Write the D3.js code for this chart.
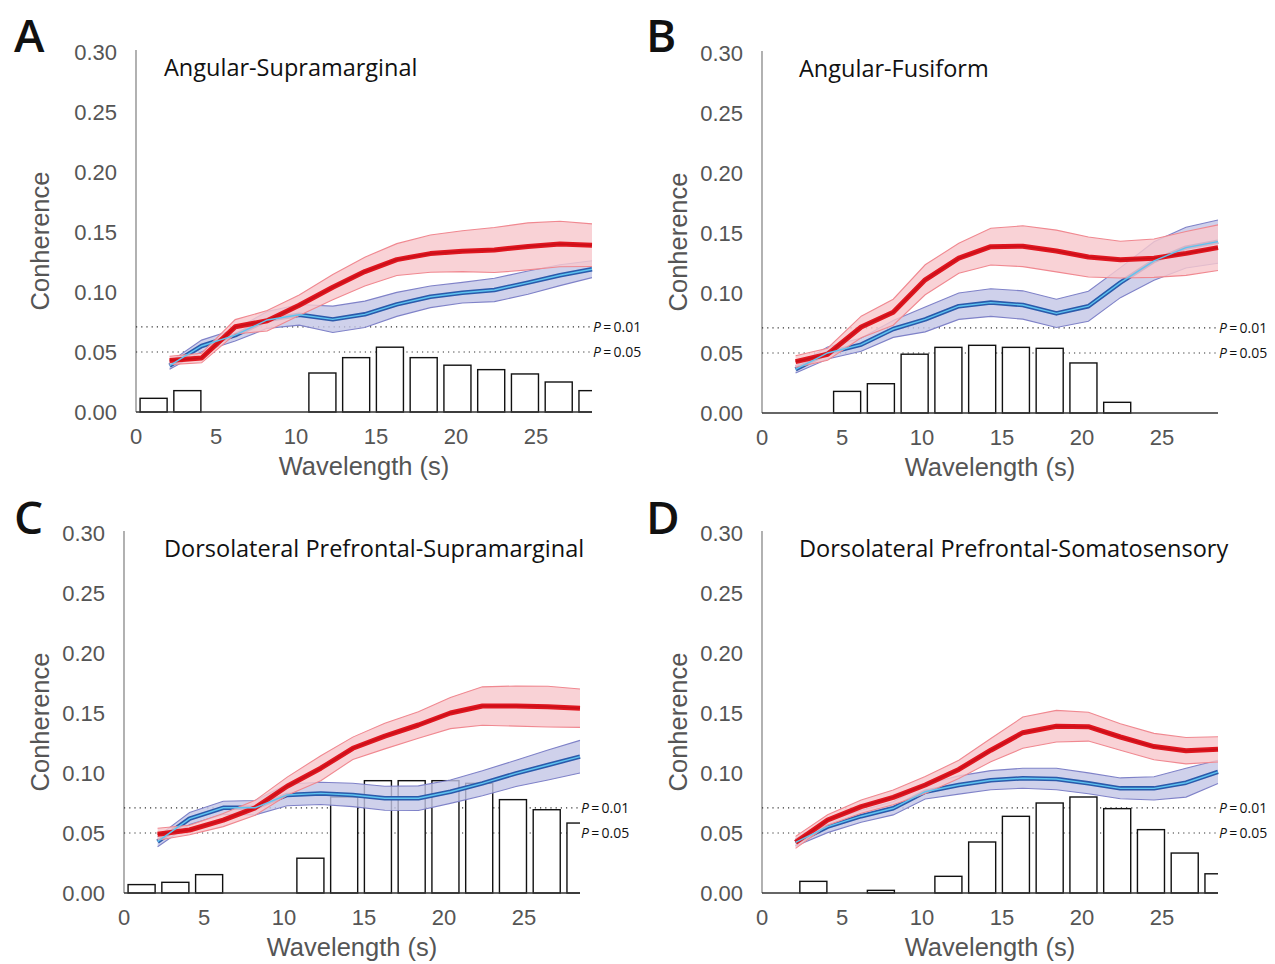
<!DOCTYPE html>
<html>
<head>
<meta charset="utf-8">
<script src="https://cdn.jsdelivr.net/npm/d3@7"></script>
<style>
  body { margin: 0; background: #fff; }
  svg { display: block; }
</style>
</head>
<body>
<svg id="chart" width="1275" height="964"></svg>
<script>
// wavelength grid of the coherence curves and of the histogram bins
const wavelengths = [2.1, 4.1, 6.2, 8.2, 10.2, 12.3, 14.3, 16.3, 18.4, 20.4, 22.4, 24.5, 26.5, 28.5];
const binCenters = [1.1, 3.21, 5.32, 7.43, 9.54, 11.65, 13.76, 15.87, 17.98, 20.09, 22.2, 24.31, 26.42, 28.53];
const xTicks = [0, 5, 10, 15, 20, 25];
const yTicks = [0, 0.05, 0.10, 0.15, 0.20, 0.25, 0.30];
const pLevels = [{p: "0.01", v: 0.071}, {p: "0.05", v: 0.05}];

// A: Angular-Supramarginal
const aRed = [0.043, 0.045, 0.071, 0.076, 0.089, 0.104, 0.117, 0.127, 0.132, 0.134, 0.135, 0.138, 0.140, 0.139];
const aRedErr = [0.0035, 0.004, 0.006, 0.0085, 0.0085, 0.0105, 0.012, 0.0133, 0.0155, 0.017, 0.0188, 0.0196, 0.019, 0.0178];
const aBlue = [0.0386, 0.055, 0.064, 0.0767, 0.081, 0.0772, 0.0814, 0.0897, 0.096, 0.0994, 0.1017, 0.1078, 0.114, 0.119];
const aBlueErr = [0.003, 0.0049, 0.0049, 0.007, 0.0086, 0.011, 0.011, 0.010, 0.009, 0.0086, 0.0097, 0.0097, 0.0087, 0.007];
const aBars = [0.0114, 0.0178, 0, 0, 0, 0.0325, 0.0453, 0.054, 0.0453, 0.039, 0.0353, 0.0317, 0.025, 0.0178];

// B: Angular-Fusiform
const bRed = [0.0428, 0.049, 0.0717, 0.084, 0.111, 0.129, 0.1386, 0.139, 0.135, 0.130, 0.1278, 0.129, 0.133, 0.1378];
const bRedErr = [0.0049, 0.005, 0.009, 0.0108, 0.0125, 0.0125, 0.0153, 0.017, 0.0174, 0.0167, 0.0153, 0.016, 0.0183, 0.019];
const bBlue = [0.0364, 0.05, 0.057, 0.070, 0.078, 0.089, 0.092, 0.090, 0.083, 0.089, 0.1086, 0.1267, 0.1378, 0.1428];
const bBlueErr = [0.003, 0.005, 0.0055, 0.007, 0.0104, 0.011, 0.0115, 0.0118, 0.0118, 0.0125, 0.0125, 0.016, 0.017, 0.018];
const bBars = [0, 0, 0.018, 0.0244, 0.049, 0.0547, 0.0564, 0.0547, 0.0539, 0.0417, 0.0089, 0, 0, 0];

// C: Dorsolateral Prefrontal-Supramarginal
const cRed = [0.049, 0.0525, 0.0608, 0.071, 0.089, 0.104, 0.1206, 0.1308, 0.140, 0.150, 0.1558, 0.1558, 0.1553, 0.154];
const cRedErr = [0.005, 0.004, 0.0055, 0.0062, 0.0076, 0.0104, 0.0093, 0.0107, 0.011, 0.013, 0.016, 0.0167, 0.017, 0.016];
const cBlue = [0.0428, 0.062, 0.071, 0.0711, 0.0817, 0.083, 0.0817, 0.079, 0.079, 0.0844, 0.0914, 0.0997, 0.1067, 0.1136];
const cBlueErr = [0.0042, 0.005, 0.0055, 0.006, 0.009, 0.0093, 0.0097, 0.010, 0.0103, 0.0097, 0.0104, 0.011, 0.0125, 0.0136];
const cBars = [0.007, 0.0089, 0.0153, 0, 0, 0.029, 0.080, 0.0936, 0.0936, 0.0936, 0.0914, 0.0778, 0.0694, 0.0583];

// D: Dorsolateral Prefrontal-Somatosensory
const dRed = [0.0422, 0.0608, 0.072, 0.0797, 0.09, 0.103, 0.119, 0.1336, 0.139, 0.1386, 0.130, 0.122, 0.1186, 0.1197];
const dRedErr = [0.005, 0.0044, 0.0055, 0.0062, 0.007, 0.0076, 0.0097, 0.013, 0.0132, 0.012, 0.011, 0.011, 0.011, 0.0105];
const dBlue = [0.0422, 0.0553, 0.064, 0.0706, 0.0844, 0.09, 0.094, 0.0956, 0.095, 0.0914, 0.0872, 0.0872, 0.0919, 0.101];
const dBlueErr = [0.003, 0.005, 0.005, 0.0055, 0.006, 0.0076, 0.008, 0.0083, 0.009, 0.0087, 0.0087, 0.0097, 0.012, 0.0097];
const dBars = [0, 0.0097, 0, 0.0022, 0, 0.0139, 0.0425, 0.0639, 0.075, 0.080, 0.0703, 0.0528, 0.0333, 0.016];

const panels = [
    {letter: "A", title: "Angular-Supramarginal", x0: 136, yBase: 412, lx: 14, ly: 52, tx: 164, yl: 40, red: aRed, redErr: aRedErr, blue: aBlue, blueErr: aBlueErr, bars: aBars},
    {letter: "B", title: "Angular-Fusiform", x0: 762, yBase: 413, lx: 646, ly: 52, tx: 799, yl: 678, red: bRed, redErr: bRedErr, blue: bBlue, blueErr: bBlueErr, bars: bBars},
    {letter: "C", title: "Dorsolateral Prefrontal-Supramarginal", x0: 124, yBase: 893, lx: 14, ly: 534, tx: 164, yl: 40, red: cRed, redErr: cRedErr, blue: cBlue, blueErr: cBlueErr, bars: cBars},
    {letter: "D", title: "Dorsolateral Prefrontal-Somatosensory", x0: 762, yBase: 893, lx: 646, ly: 534, tx: 799, yl: 678, red: dRed, redErr: dRedErr, blue: dBlue, blueErr: dBlueErr, bars: dBars}
];

const svg = d3.select("#chart");
svg.append("rect").attr("width", 1275).attr("height", 964).attr("fill", "#fff");

const numFont = "'Liberation Sans', Arial, sans-serif";
const textFont = "'Open Sans', 'Noto Sans', sans-serif";
const binWidth = 1.69;

panels.forEach((p, i) => {
    let x = d3.scaleLinear().domain([0, 28.5]).range([p.x0, p.x0 + 456]);
    let y = d3.scaleLinear().domain([0, 0.30]).range([p.yBase, p.yBase - 360]);
    let g = svg.append("g");

    let clipId = "clip" + i;
    g.append("clipPath").attr("id", clipId)
        .append("rect")
        .attr("x", x(0)).attr("y", y(0.30) - 10)
        .attr("width", x(28.5) - x(0)).attr("height", y(0) - y(0.30) + 12);

    //panel letter
    g.append("text")
        .attr("x", p.lx).attr("y", p.ly)
        .attr("font-family", textFont).attr("font-weight", 600)
        .attr("font-size", 46).attr("fill", "#111")
        .text(p.letter);

    //y axis: bare line and labels
    g.append("line")
        .attr("x1", x(0)).attr("x2", x(0))
        .attr("y1", y(0.30) - 2).attr("y2", y(0))
        .attr("stroke", "#888").attr("stroke-width", 1.3);
    g.selectAll(".ytick").data(yTicks).join("text")
        .attr("class", "ytick")
        .attr("x", x(0) - 19).attr("y", d => y(d))
        .attr("dy", "0.35em").attr("text-anchor", "end")
        .attr("font-family", numFont).attr("font-size", 22).attr("fill", "#555")
        .text(d => d3.format(".2f")(d));

    //x tick labels
    g.selectAll(".xtick").data(xTicks).join("text")
        .attr("class", "xtick")
        .attr("x", d => x(d)).attr("y", y(0) + 24)
        .attr("dy", "0.35em").attr("text-anchor", "middle")
        .attr("font-family", numFont).attr("font-size", 22).attr("fill", "#555")
        .text(d => d);

    //axis titles
    g.append("text")
        .attr("x", (x(0) + x(28.5)) / 2).attr("y", y(0) + 54)
        .attr("dy", "0.35em").attr("text-anchor", "middle")
        .attr("font-family", numFont).attr("font-size", 25.5).attr("fill", "#555")
        .text("Wavelength (s)");
    g.append("text")
        .attr("transform", `translate(${p.yl} ${y(0.15) + 9}) rotate(-90)`)
        .attr("dy", "0.35em").attr("text-anchor", "middle")
        .attr("font-family", numFont).attr("font-size", 25.5).attr("fill", "#555")
        .text("Conherence");

    //title
    g.append("text")
        .attr("x", p.tx).attr("y", y(0.30) + 16)
        .attr("dy", "0.35em")
        .attr("font-family", textFont).attr("font-size", 23.5).attr("fill", "#111")
        .text(p.title);

    //significance thresholds
    g.selectAll(".plevel").data(pLevels).join("line")
        .attr("class", "plevel")
        .attr("x1", x(0)).attr("x2", x(28.5))
        .attr("y1", d => y(d.v)).attr("y2", d => y(d.v))
        .attr("stroke", "#333").attr("stroke-width", 1.2)
        .attr("stroke-dasharray", "1.2,4");
    let pl = g.selectAll(".plabel").data(pLevels).join("text")
        .attr("class", "plabel")
        .attr("x", x(28.5) + 1).attr("y", d => y(d.v))
        .attr("dy", "0.35em")
        .attr("font-family", textFont).attr("font-size", 14).attr("fill", "#111");
    pl.append("tspan").attr("font-style", "italic").text("P");
    pl.append("tspan").text(d => "\u2009=\u2009" + d.p);

    //histogram
    g.append("g").attr("clip-path", `url(#${clipId})`)
        .selectAll("rect").data(binCenters.map((c, k) => ({c, v: p.bars[k]})).filter(d => d.v > 0))
        .join("rect")
        .attr("x", d => x(d.c - binWidth / 2))
        .attr("width", x(binWidth) - x(0))
        .attr("y", d => y(d.v))
        .attr("height", d => y(0) - y(d.v))
        .attr("fill", "#fff").attr("stroke", "#111").attr("stroke-width", 1.4);

    //x baseline
    g.append("line")
        .attr("x1", x(0)).attr("x2", x(28.5))
        .attr("y1", y(0)).attr("y2", y(0))
        .attr("stroke", "#333").attr("stroke-width", 1.4);

    let pts = (m, e) => wavelengths.map((w, k) => ({w, m: m[k], lo: m[k] - e[k], hi: m[k] + e[k]}));
    let red = pts(p.red, p.redErr), blue = pts(p.blue, p.blueErr);

    let area = d3.area().x(d => x(d.w)).y0(d => y(d.lo)).y1(d => y(d.hi));
    let lineM = d3.line().x(d => x(d.w)).y(d => y(d.m));
    let lineLo = d3.line().x(d => x(d.w)).y(d => y(d.lo));
    let lineHi = d3.line().x(d => x(d.w)).y(d => y(d.hi));

    //blue series
    g.append("path").datum(blue).attr("d", area)
        .attr("fill", "#c3c5e6").attr("fill-opacity", 0.8);
    [lineLo, lineHi].forEach(l => g.append("path").datum(blue).attr("d", l)
        .attr("fill", "none").attr("stroke", "#7f82c8").attr("stroke-width", 1.1));
    g.append("path").datum(blue).attr("d", lineM)
        .attr("fill", "none").attr("stroke", "#2a5aab").attr("stroke-width", 4.5)
        .attr("stroke-linejoin", "round");

    //red series
    g.append("path").datum(red).attr("d", area)
        .attr("fill", "#f8c8cd").attr("fill-opacity", 0.82);
    [lineLo, lineHi].forEach(l => g.append("path").datum(red).attr("d", l)
        .attr("fill", "none").attr("stroke", "#f08890").attr("stroke-width", 1.1));
    g.append("path").datum(red).attr("d", lineM)
        .attr("fill", "none").attr("stroke", "#e0161f").attr("stroke-width", 5)
        .attr("stroke-linejoin", "round");
    g.append("path").datum(red).attr("d", lineM)
        .attr("fill", "none").attr("stroke", "#c8101a").attr("stroke-width", 1.6);

    //thin light-blue trace on top
    g.append("path").datum(blue).attr("d", lineM)
        .attr("fill", "none").attr("stroke", "#5ec4f0").attr("stroke-width", 1.4);
});
</script>
</body>
</html>
